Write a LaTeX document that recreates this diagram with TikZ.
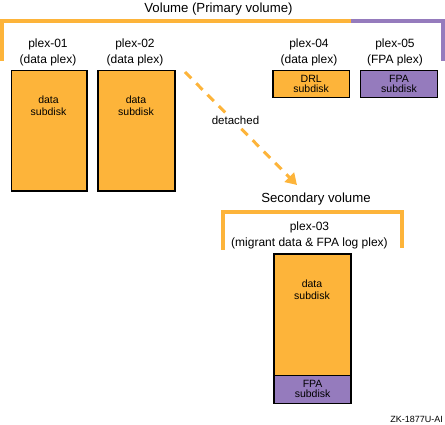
\documentclass[tikz,border=0pt]{standalone}
\usepackage{fontspec}
\setmainfont{Liberation Sans}
\usetikzlibrary{arrows.meta}
\definecolor{orng}{RGB}{253,180,58}
\definecolor{purp}{RGB}{149,123,189}
\tikzset{
  brk/.style={line width=4pt, line cap=butt, line join=miter},
  sub/.style={draw, line width=1.4pt, inner sep=0pt, anchor=north west, align=center,
    font=\fontsize{10.5}{10}\selectfont},
  plexlbl/.style={align=center, inner sep=0pt, font=\fontsize{12}{16}\selectfont},
  ttl/.style={inner sep=0pt, font=\fontsize{13.2}{14}\selectfont},
  boxtxt/.style={align=center, inner sep=0pt, font=\fontsize{10.5}{12}\selectfont},
}
\begin{document}
\begin{tikzpicture}[x=1pt,y=-1pt]
\useasboundingbox (0,0) rectangle (445,425);
% primary volume bracket
\draw[brk, orng] (2,61) -- (2,21) -- (351,21);
\draw[brk, purp] (351,21) -- (443,21) -- (443,61);
\node[ttl] (vol) at (218.5,9) {Volume (Primary volume)};
% plex labels
\node[plexlbl] (l01) at (48,52) {plex-01\\(data plex)};
\node[plexlbl] (l02) at (135,52) {plex-02\\(data plex)};
\node[plexlbl] (l04) at (309,52) {plex-04\\(data plex)};
\node[plexlbl] (l05) at (395,52) {plex-05\\(FPA plex)};
% subdisks
\node[sub, fill=orng, minimum width=75.5pt, minimum height=120.5pt] (b01) at (10.7,69.7) {};
\node[boxtxt] (t01) at (48.5,106) {data\\subdisk};
\node[sub, fill=orng, minimum width=77pt, minimum height=120.5pt] (b02) at (97.4,69.7) {};
\node[boxtxt] (t02) at (136,106) {data\\subdisk};
\node[sub, fill=orng, minimum width=76.2pt, minimum height=27.4pt] (b04) at (272.4,69.7) {DRL\\subdisk};
\node[sub, fill=purp, minimum width=76.6pt, minimum height=27.4pt] (b05) at (360,69.7) {FPA\\subdisk};
% detached arrow
\coordinate (ds) at (185,72);
\coordinate (de) at (297,185);
\draw[orng, line width=3pt, dash pattern=on 9pt off 7pt, -{Triangle[length=11pt,width=13pt]}] (ds) -- (de);
\node[fill=white, inner sep=1pt, font=\fontsize{11.5}{12}\selectfont] (det) at (235.5,120) {detached};
% secondary volume
\node[ttl] (sec) at (316,199) {Secondary volume};
\draw[brk, orng] (223,250) -- (223,212) -- (402,212) -- (402,248);
\node[plexlbl] (l03) at (309.5,235.5) {plex-03\\(migrant data \& FPA log plex)};
\node[sub, fill=orng, minimum width=77pt, minimum height=121.3pt] (b03) at (273.4,253.4) {};
\node[boxtxt] (t03) at (312,290) {data\\subdisk};
\node[sub, fill=purp, minimum width=77pt, minimum height=28pt] (b03f) at (273.4,374.7) {FPA\\subdisk};
\node[anchor=east, inner sep=0pt, font=\fontsize{9}{9}\selectfont] (zk) at (443,419) {ZK-1877U-AI};
\end{tikzpicture}
\end{document}
